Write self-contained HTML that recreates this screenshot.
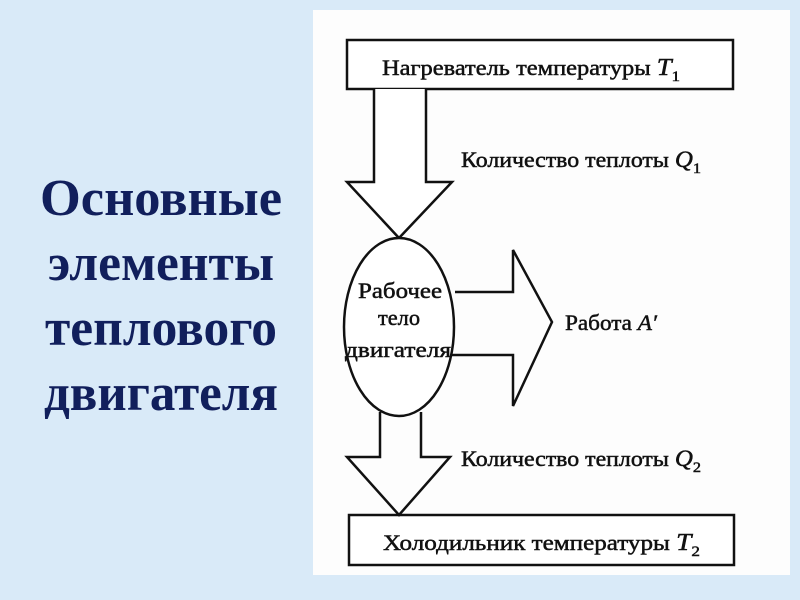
<!DOCTYPE html>
<html><head><meta charset="utf-8"><style>
body{margin:0;width:800px;height:600px;background:#d9eaf8;overflow:hidden}
</style></head><body>
<svg width="800" height="600" xmlns="http://www.w3.org/2000/svg" style="position:absolute;left:0;top:0">
<rect x="0" y="0" width="800" height="600" fill="#d9eaf8"/>
<rect x="313" y="10" width="477" height="565" fill="#fdfdfd"/>
<g font-family="Liberation Serif, serif" font-weight="bold" font-size="52" fill="#111f5c" text-anchor="middle">
<text x="161" y="215" textLength="242" lengthAdjust="spacingAndGlyphs">Основные</text>
<text x="161" y="280" textLength="226" lengthAdjust="spacingAndGlyphs">элементы</text>
<text x="161" y="345" textLength="232" lengthAdjust="spacingAndGlyphs">теплового</text>
<text x="161" y="410" textLength="234" lengthAdjust="spacingAndGlyphs">двигателя</text>
</g>
<g fill="none" stroke="#111" stroke-width="2.5">
<rect x="347" y="40" width="386" height="49" fill="#fff"/>
<rect x="349" y="515" width="385" height="50" fill="#fff"/>
<polyline points="374,89 374,182 347,182 399,238 452,182 426,182 426,89" fill="#fff"/>
<polyline points="380,412 380,457 347,457 399,515 450,457 421,457 421,412"/>
<polyline points="455,292 513,292 513,250 552,322 513,406 513,355 452,355"/>
<ellipse cx="399" cy="327" rx="55" ry="89" fill="#fff"/>
</g>
<g font-family="Liberation Serif, serif" font-size="22" fill="#111" stroke="#111" stroke-width="0.5">
<text x="382" y="75" textLength="298" lengthAdjust="spacingAndGlyphs">Нагреватель температуры <tspan font-style="italic" font-size="24">T</tspan><tspan font-size="15" dy="6">1</tspan></text>
<text x="461" y="167" textLength="240" lengthAdjust="spacingAndGlyphs">Количество теплоты <tspan font-style="italic" font-size="23">Q</tspan><tspan font-size="15" dy="6">1</tspan></text>
<text x="461" y="466" textLength="240" lengthAdjust="spacingAndGlyphs">Количество теплоты <tspan font-style="italic" font-size="23">Q</tspan><tspan font-size="15" dy="6">2</tspan></text>
<text x="383" y="550" textLength="317" lengthAdjust="spacingAndGlyphs">Холодильник температуры  <tspan font-style="italic" font-size="24">T</tspan><tspan font-size="15" dy="6">2</tspan></text>
<text x="565" y="330" textLength="92" lengthAdjust="spacingAndGlyphs">Работа <tspan font-style="italic">A′</tspan></text>
<g text-anchor="middle"><text x="400" y="298" textLength="84" lengthAdjust="spacingAndGlyphs">Рабочее</text><text x="399" y="325" textLength="42" lengthAdjust="spacingAndGlyphs">тело</text><text x="398" y="357" textLength="106" lengthAdjust="spacingAndGlyphs">двигателя</text></g>
</g>
</svg>
</body></html>
